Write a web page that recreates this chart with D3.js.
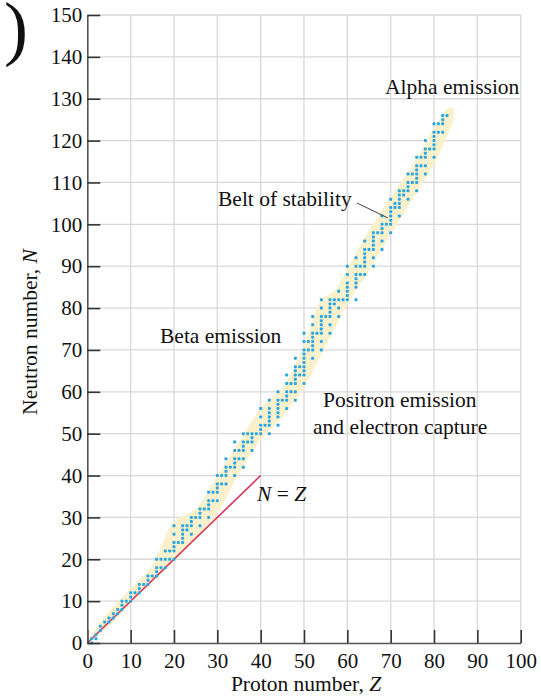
<!DOCTYPE html>
<html>
<head>
<meta charset="utf-8">
<script src="https://cdn.jsdelivr.net/npm/d3@7"></script>
<style>
  body { margin: 0; background: #fff; }
  svg { display: block; }
  text { font-family: "Liberation Serif", "DejaVu Serif", serif; fill: #111; }
</style>
</head>
<body>
<svg id="chart" width="541" height="698"></svg>
<script>
// stable nuclides: proton number Z and the neutron numbers N found for it
var protonNumbers = [1,2,3,4,5,6,7,8,9,10,11,12,13,14,15,16,17,18,19,20,
  21,22,23,24,25,26,27,28,29,30,31,32,33,34,35,36,37,38,39,40,
  41,42,44,45,46,47,48,49,50,51,52,53,54,55,56,57,58,59,60,
  62,63,64,65,66,67,68,69,70,71,72,73,74,75,76,77,78,79,80,81,82,83];
var neutronCounts = [
  [0,1],[1,2],[3,4],[5],[5,6],[6,7],[7,8],[8,9,10],[10],[10,11,12],
  [12],[12,13,14],[14],[14,15,16],[16],[16,17,18,20],[18,20],[18,20,22],[20,22],[20,22,23,24,26,28],
  [24],[24,25,26,27,28],[27,28],[26,28,29,30],[30],[28,30,31,32],[32],[30,32,33,34,36],[34,36],[34,36,37,38,40],
  [38,40],[38,40,41,42,44],[42],[40,42,43,44,46,48],[44,46],[42,44,46,47,48,50],[48,50],[46,48,49,50],[50],[50,51,52,54,56],
  [52],[50,52,53,54,55,56,58],[52,54,55,56,57,58,60],[58],[56,58,59,60,62,64],[60,62],[58,60,62,63,64,65,66,68],[64,66],
  [62,64,65,66,67,68,69,70,72,74],[70,72],[68,70,71,72,73,74,76,78],[74],[70,72,74,75,76,77,78,80,82],[78],
  [74,76,78,79,80,81,82],[81,82],[78,80,82,84],[82],[82,83,84,85,86,88,90],
  [82,85,86,87,88,90,92],[88,90],[88,90,91,92,93,94,96],[94],[90,92,94,95,96,97,98],[98],[94,96,98,99,100,102],[100],
  [98,100,101,102,103,104,106],[104,105],[102,104,105,106,107,108],[107,108],[106,108,109,110,112],[110,112],
  [108,110,111,112,113,114,116],[114,116],[112,114,116,117,118,120],[118],[116,118,119,120,121,122,124],[122,124],
  [122,124,125,126],[126]
];

// belt of stability outline
var bandZ     = [0, 5, 10, 15, 17, 20, 25, 30, 35, 40, 45, 50, 54, 57, 60, 65, 70, 75, 80, 83, 84.5];
var bandUpper = [0.5, 7.5, 13, 18.5, 23, 29, 32, 40, 48, 56, 61, 71, 82, 84, 89.5, 98.5, 106.5, 114, 123, 127.5, 128];
var bandLower = [0, 4, 9.5, 14.5, 16.5, 19.5, 25, 31, 40.5, 48.5, 54, 61, 69, 75, 81, 89, 97.5, 106, 114.5, 121, 125];

var xTicks = d3.range(0, 101, 10);
var yTicks = d3.range(0, 151, 10);
var lineZ = [0, 40];

var svg = d3.select("#chart");
var x = d3.scaleLinear().domain([0, 100]).range([87.3, 520.7]);
var y = d3.scaleLinear().domain([0, 150]).range([643, 15]);

// grid
svg.append("g")
  .selectAll("line.v")
  .data(xTicks.slice(1))
  .enter().append("line")
  .attr("x1", function(d) { return x(d); })
  .attr("x2", function(d) { return x(d); })
  .attr("y1", y(0)).attr("y2", y(150))
  .attr("stroke", "#d8d8d8").attr("stroke-width", 1.3);

svg.append("g")
  .selectAll("line.h")
  .data(yTicks.slice(1))
  .enter().append("line")
  .attr("x1", x(0)).attr("x2", x(100))
  .attr("y1", function(d) { return y(d); })
  .attr("y2", function(d) { return y(d); })
  .attr("stroke", "#d8d8d8").attr("stroke-width", 1.3);

// belt
var band = bandZ.map(function(z, i) { return { z: z, lo: bandLower[i], hi: bandUpper[i] }; });
svg.append("path")
  .datum(band)
  .attr("fill", "#fbf0cc")
  .attr("d", d3.area()
    .x(function(d) { return x(d.z); })
    .y0(function(d) { return y(d.lo); })
    .y1(function(d) { return y(d.hi); })
    .curve(d3.curveCatmullRom));

// N = Z line
svg.append("line")
  .attr("x1", x(lineZ[0])).attr("y1", y(lineZ[0]))
  .attr("x2", x(lineZ[1])).attr("y2", y(lineZ[1]))
  .attr("stroke", "#d8345a").attr("stroke-width", 1.6);

// nuclide dots
var nuclides = [];
protonNumbers.forEach(function(z, i) {
  neutronCounts[i].forEach(function(n) { nuclides.push({ z: z, n: n }); });
});
svg.append("g")
  .selectAll("rect")
  .data(nuclides)
  .enter().append("rect")
  .attr("x", function(d) { return x(d.z) - 1.5; })
  .attr("y", function(d) { return y(d.n) - 1.5; })
  .attr("width", 3).attr("height", 3)
  .attr("rx", 0.8)
  .attr("fill", "#2aa6e2");

// axes
var xAxis = svg.append("g")
  .attr("transform", "translate(0," + y(0) + ")")
  .call(d3.axisBottom(x).tickValues(xTicks).tickSizeInner(-13).tickSizeOuter(0).tickPadding(10));
var yAxis = svg.append("g")
  .attr("transform", "translate(" + x(0) + ",0)")
  .call(d3.axisLeft(y).tickValues(yTicks).tickSizeInner(-13).tickSizeOuter(0).tickPadding(5));

[xAxis, yAxis].forEach(function(g) {
  g.select(".domain").attr("stroke", "#555").attr("stroke-width", 1.6);
  g.selectAll(".tick line").attr("stroke", "#333").attr("stroke-width", 1.6);
  g.selectAll(".tick text")
    .style("font-family", "Liberation Serif, serif")
    .style("font-size", "21px")
    .attr("fill", "#111");
});

// titles
var xt = svg.append("text")
  .attr("x", 306).attr("y", 691)
  .attr("text-anchor", "middle")
  .style("font-size", "21.5px");
xt.append("tspan").text("Proton number, ");
xt.append("tspan").style("font-style", "italic").text("Z");

var yt = svg.append("text")
  .attr("transform", "translate(37,332) rotate(-90)")
  .attr("text-anchor", "middle")
  .style("font-size", "21.5px");
yt.append("tspan").text("Neutron number, ");
yt.append("tspan").style("font-style", "italic").text("N");

// annotations
function label(tx, ty, s) {
  svg.append("text")
    .attr("x", tx).attr("y", ty)
    .style("font-size", "21.5px")
    .text(s);
}
label(385, 94, "Alpha emission");
label(218, 206, "Belt of stability");
label(160, 343, "Beta emission");
label(323, 407, "Positron emission");
label(313, 434, "and electron capture");

svg.append("line")
  .attr("x1", 357).attr("y1", 203)
  .attr("x2", 388).attr("y2", 218)
  .attr("stroke", "#444").attr("stroke-width", 1);

var nz = svg.append("text")
  .attr("x", 257).attr("y", 501)
  .style("font-size", "21.5px");
nz.append("tspan").style("font-style", "italic").text("N");
nz.append("tspan").text(" = ");
nz.append("tspan").style("font-style", "italic").text("Z");

// panel letter (only its closing bracket is visible)
svg.append("text")
  .attr("x", 4).attr("y", 52)
  .style("font-size", "72px")
  .text(")");
</script>
</body>
</html>
